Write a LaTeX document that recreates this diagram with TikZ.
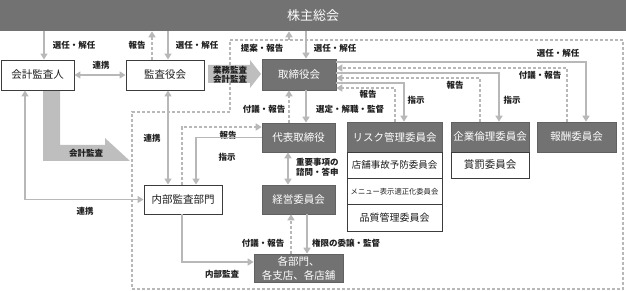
\documentclass[tikz,border=0pt]{standalone}
\usepackage{fontspec}
\setmainfont{Noto Sans CJK JP}
\usetikzlibrary{arrows.meta,calc}
\definecolor{dark}{HTML}{727272}
\definecolor{ln}{HTML}{B8B8B8}
\definecolor{bigarr}{HTML}{BEBEBE}
\definecolor{wbord}{HTML}{3C3C3C}
\definecolor{txt}{HTML}{1E1E1E}
\begin{document}
\begin{tikzpicture}[x=1pt,y=-1pt,
  darkbox/.style={fill=dark, draw=dark!85!black, line width=0.6pt, text=white, inner sep=0pt, font=\fontsize{10.5}{12}\selectfont, align=center},
  whitebox/.style={fill=white, draw=wbord, line width=0.9pt, text=txt, inner sep=0pt, font=\fontsize{10.5}{12}\selectfont, align=center},
  conn/.style={draw=ln, line width=1.8pt},
  arr/.style={conn, -{Triangle[length=6pt,width=7pt]}},
  darr/.style={conn, {Triangle[length=6pt,width=7pt]}-{Triangle[length=6pt,width=7pt]}},
  dsh/.style={conn, dash pattern=on 3pt off 2pt},
  darrow/.style={dsh, -{Triangle[length=6pt,width=7pt]}},
  lbl/.style={text=txt, font=\fontsize{8.5}{10}\bfseries\selectfont, inner sep=0pt},
]
\useasboundingbox (0,0) rectangle (626,291);
% outer boundary of executive organisation
\draw[dsh] (230,40) -- (623,40) -- (623,289) -- (132,289) -- (132,112) -- (230,112) -- cycle;
% big arrows
\fill[bigarr] (43,90) -- (60,90) -- (60,145) -- (105,145) -- (105,138) -- (130,161) -- (43,161) -- cycle;
\node[lbl] (l23) at (86,153) {会計監査};
\fill[bigarr] (208,65) -- (250,65) -- (250,60) -- (261,74) -- (250,88) -- (250,83) -- (208,83) -- cycle;
\node[lbl, align=center, font=\fontsize{8.5}{9}\bfseries\selectfont] (l24) at (230,74.5) {業務監査\\会計監査};
% nodes
\node[darkbox, draw=none, minimum width=626pt, minimum height=31pt, font=\fontsize{13}{15}\selectfont] (gm) at (313,15.5) {株主総会};
\node[whitebox, minimum width=73pt, minimum height=30pt] (kaikei) at (37.5,75) {会計監査人};
\node[whitebox, minimum width=78pt, minimum height=30pt] (kansa) at (165,75) {監査役会};
\node[darkbox, minimum width=74pt, minimum height=31pt] (tori) at (299,74.5) {取締役会};
\node[darkbox, minimum width=73pt, minimum height=29pt] (daihyo) at (298.5,137.5) {代表取締役};
\node[darkbox, minimum width=73pt, minimum height=29pt] (keiei) at (298.5,199.5) {経営委員会};
\node[darkbox, minimum width=89pt, minimum height=28pt, font=\fontsize{10.5}{14}\selectfont] (kakubu) at (298.5,268) {各部門、\\各支店、各店舗};
\node[whitebox, minimum width=78pt, minimum height=29pt] (naibu) at (183,199.5) {内部監査部門};
\node[darkbox, minimum width=95pt, minimum height=30pt] (risk) at (394.5,137) {リスク管理委員会};
\node[whitebox, minimum width=95pt, minimum height=26.3pt, font=\fontsize{9.5}{11}\selectfont] (risk1) at (394.5,165.2) {店舗事故予防委員会};
\node[whitebox, minimum width=95pt, minimum height=26.3pt, font=\fontsize{7.3}{9}\selectfont] (risk2) at (394.5,191.5) {メニュー表示適正化委員会};
\node[whitebox, minimum width=95pt, minimum height=26.3pt, font=\fontsize{10}{12}\selectfont] (risk3) at (394.5,217.8) {品質管理委員会};
\node[darkbox, minimum width=78pt, minimum height=30pt] (rinri) at (490,137) {企業倫理委員会};
\node[whitebox, minimum width=78pt, minimum height=26pt] (shobatsu) at (490,165) {賞罰委員会};
\node[darkbox, minimum width=79pt, minimum height=30pt] (hoshu) at (576.5,137) {報酬委員会};
% connectors: shareholders
\draw[arr] (gm.south -| 44,0) -- (kaikei.north -| 44,0);
\node[lbl] (l1) at (74,45) {選任・解任};
\draw[darr] (kaikei.east) -- (kansa.west);
\node[lbl] (l2) at (101,65) {連携};
\draw[darrow] (kansa.north -| 152,0) -- (gm.south -| 152,0);
\node[lbl] (l3) at (137,45) {報告};
\draw[arr] (gm.south -| 168,0) -- (kansa.north -| 168,0);
\node[lbl] (l4) at (197,45) {選任・解任};
\draw[arr] (gm.south -| 306,0) -- (tori.north -| 306,0);
\node[lbl] (l5) at (335,48) {選任・解任};
\coordinate (bt) at (289,40);
\draw[darrow] (bt) -- (gm.south -| bt);
\node[lbl] (l6) at (262,48) {提案・報告};
% board and executives
\draw[arr] (tori.south -| 306,0) -- (daihyo.north -| 306,0);
\node[lbl] (l7) at (350,109) {選定・解職・監督};
\draw[darrow] (daihyo.north -| 289,0) -- (tori.south -| 289,0);
\node[lbl] (l8) at (264,109) {付議・報告};
\draw[darr] (daihyo.south -| 288,0) -- (keiei.north -| 288,0);
\node[lbl, align=left, anchor=west] (l9) at (296,167) {重要事項の\\諮問・答申};
\draw[arr] (keiei.south -| 307,0) -- (kakubu.north -| 307,0);
\node[lbl, anchor=west] (l10) at (312,243) {権限の委譲・監督};
\draw[darrow] (kakubu.north -| 291,0) -- (keiei.south -| 291,0);
\node[lbl] (l11) at (263,243) {付議・報告};
% internal audit
\draw[arr] (naibu.south -| 182,0) |- (kakubu.west |- 0,262);
\node[lbl] (l12) at (222,274) {内部監査};
\draw[darr] (kansa.south -| 168,0) -- (naibu.north -| 168,0);
\node[lbl] (l13) at (152,138) {連携};
\draw[darrow] (naibu.north -| 182,0) |- (daihyo.west |- 0,127);
\node[lbl] (l14) at (228,135) {報告};
\draw[arr] (daihyo.west) -| (naibu.north -| 196,0);
\node[lbl] (l15) at (227,157) {指示};
\draw[darr] (kaikei.south -| 25,0) |- (naibu.west);
\node[lbl] (l16) at (85,211) {連携};
% committees
\draw[arr] (tori.east |- 0,62) -| (hoshu.north -| 586,0);
\node[lbl] (l17) at (558,53) {選任・解任};
\draw[darrow] (hoshu.north -| 567,0) |- (tori.east |- 0,68);
\node[lbl] (l18) at (540,75) {付議・報告};
\draw[arr] (tori.east |- 0,73) -| (rinri.north -| 499,0);
\node[lbl] (l19) at (512,100) {指示};
\draw[darrow] (rinri.north -| 480,0) |- (tori.east |- 0,78);
\node[lbl] (l20) at (455,85) {報告};
\draw[arr] (tori.east |- 0,83) -| (risk.north -| 404,0);
\node[lbl] (l21) at (416,100) {指示};
\draw[darrow] (risk.north -| 395,0) |- (tori.east |- 0,88);
\node[lbl] (l22) at (368,94) {報告};
\end{tikzpicture}
\end{document}
